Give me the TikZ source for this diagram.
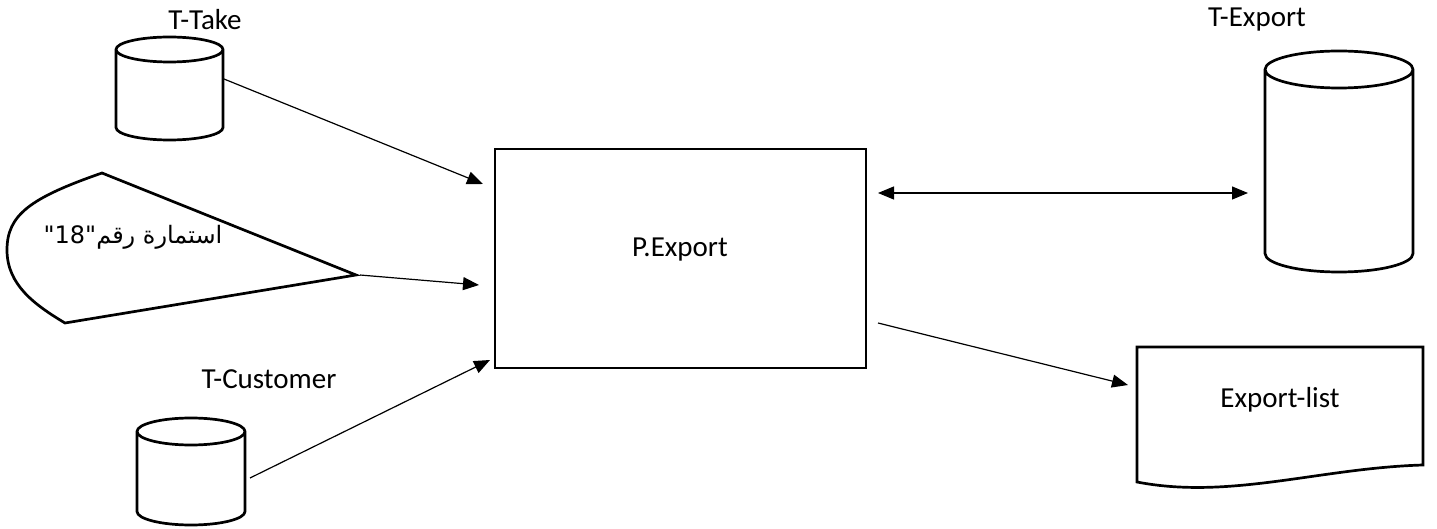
\documentclass[tikz,border=0pt]{standalone}
\usepackage{fontspec}
\setmainfont{Carlito}
\newfontfamily\arabicfont[Script=Arabic]{DejaVu Sans}
\TeXXeTstate=1
\usetikzlibrary{calc,arrows.meta}

% cylinder drawn round an empty node: name, x radius, y radius
\newcommand{\dbcyl}[3]{%
  \draw[shapeline] ($(#1.north west)+(0,-#3)$) -- ($(#1.south west)+(0,#3)$)
    arc[start angle=180,end angle=360,x radius=#2,y radius=#3]
    -- ($(#1.north east)+(0,-#3)$)
    arc[start angle=0,end angle=360,x radius=#2,y radius=#3];}

\begin{document}
\begin{tikzpicture}[x=0.5pt,y=0.5pt,
    every node/.style={font=\fontsize{14.5}{17}\selectfont},
    shapeline/.style={line width=1.35pt},
    dbspace/.style={inner sep=0pt,outer sep=0pt},
    flow/.style={line width=0.6pt,-{Triangle[length=8pt,width=6.5pt]}},
    bothflow/.style={line width=0.6pt,{Triangle[length=8pt,width=6.5pt]}-{Triangle[length=8pt,width=6.5pt]}}]
  \useasboundingbox (0,0) rectangle (1437,-529);

  % tables
  \node[dbspace,minimum width=53.5pt,minimum height=51.5pt] (take) at (169.5,-88.5) {};
  \node[dbspace,minimum width=54pt,minimum height=53.5pt] (cust) at (191,-471.5) {};
  \node[dbspace,minimum width=74pt,minimum height=110.5pt] (exp) at (1339,-161.5) {};
  \dbcyl{take}{26.75pt}{6.25pt}
  \dbcyl{cust}{27pt}{6.75pt}
  \dbcyl{exp}{37pt}{9.25pt}
  \node (takelabel) at (205,-20) {T-Take};
  \node (custlabel) at (269,-379) {T-Customer};
  \node (explabel) at (1257,-20) {T-Export};

  % process
  \node[draw,line width=1.4pt,minimum width=185.5pt,minimum height=109.5pt,inner sep=0pt,outer sep=0pt] (proc) at (680.5,-258.5) {};
  \node (proclabel) at (680,-250) {P.Export};

  % form
  \coordinate (formtip) at (356,-275);
  \draw[shapeline] (102,-173) -- (formtip) -- (65,-323)
    .. controls (35,-305) and (7,-285) .. (7,-250)
    .. controls (7,-215) and (30,-198) .. cycle;
  \node[font=\arabicfont\fontsize{12}{15}\selectfont] (formlabel) at (133,-237) {\beginR استمارة رقم\beginL"18"\endL\endR};

  % report
  \node[dbspace,minimum width=143pt,minimum height=67.5pt] (elist) at (1280,-414.5) {};
  \draw[shapeline] (elist.north west) -- (elist.south west)
    .. controls (1230,-500) and (1320,-468) .. ($(elist.south east)+(0,17)$)
    -- (elist.north east) -- cycle;
  \node (elistlabel) at (1280,-400) {Export-list};

  % flows
  \draw[flow] ($(take.east)+(1,9.5)$) -- ($(proc.north west)+(-12,-35)$);
  \draw[flow] ($(formtip)+(4,0)$) -- ($(proc.west)+(-16,-26.5)$);
  \draw[flow] ($(cust.east)+(5,-6.5)$) -- ($(proc.south west)+(-5,8)$);
  \draw[bothflow] ($(proc.north east)+(12,-44)$) -- ($(exp.west)+(-17,-31.5)$);
  \draw[flow] ($(proc.south east)+(12,45)$) -- ($(elist.north west)+(-9,-38)$);
\end{tikzpicture}
\end{document}
